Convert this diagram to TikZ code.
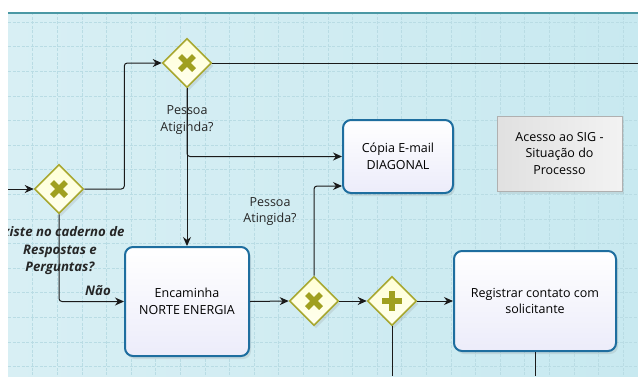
\documentclass[tikz,border=0pt]{standalone}
\usepackage{fontspec}
\setmainfont{Open Sans}
\usepackage{tikz}
\usetikzlibrary{shapes.geometric,arrows.meta,shadows}
\usepackage{xcolor}

\definecolor{bgl}{HTML}{D8EFF4}
\definecolor{bgr}{HTML}{C8E9F0}
\definecolor{gridcol}{HTML}{B9DCE4}
\definecolor{topcol}{HTML}{4A98A4}
\definecolor{gwborder}{HTML}{A8A830}
\definecolor{gwfill}{HTML}{FFFFD6}
\definecolor{gwmark}{HTML}{A0A020}
\definecolor{taskblue}{HTML}{1E6E9F}
\definecolor{taskfill}{HTML}{ECECFA}
\definecolor{noteborder}{HTML}{B0B0B0}
\definecolor{linecol}{HTML}{1A1A1A}

\begin{document}
\begin{tikzpicture}[
    x=1pt, y=-1pt,
    task/.style={rectangle, rounded corners=8pt, draw=taskblue, line width=2pt,
        top color=white, bottom color=taskfill, align=center, font=\fontsize{12.5}{16.5}\selectfont,
        drop shadow={opacity=0.18, shadow xshift=2pt, shadow yshift=-3pt}},
    gw/.style={diamond, aspect=1, minimum width=49pt, minimum height=49pt, inner sep=0pt,
        draw=gwborder, line width=1.6pt, top color=gwfill, bottom color=white!60!gwfill,
        drop shadow={opacity=0.18, shadow xshift=2pt, shadow yshift=-3pt}},
    gwx/.style={gw, path picture={
        \draw[gwmark, line width=5.5pt] (path picture bounding box.center)
            +(-7,-7) -- +(7,7) +(-7,7) -- +(7,-7);}},
    gwplus/.style={gw, path picture={
        \draw[gwmark, line width=5.5pt] (path picture bounding box.center)
            +(-10,0) -- +(10,0) +(0,-10) -- +(0,10);}},
    note/.style={rectangle, draw=noteborder, line width=0.8pt, left color=black!12, right color=black!5,
        minimum width=125pt, minimum height=75pt, align=center, font=\fontsize{12.5}{16.5}\selectfont,
        drop shadow={opacity=0.15, shadow xshift=2pt, shadow yshift=-3pt}},
    lbl/.style={align=center, font=\fontsize{12.5}{16.5}\selectfont, text=black!85, inner sep=0pt},
    qlbl/.style={align=center, font=\fontsize{13.2}{17.5}\selectfont\bfseries\itshape, text=black!85, inner sep=0pt},
    flow/.style={draw=linecol, line width=1pt, rounded corners=3pt, -{Stealth[length=9pt, width=8pt]}},
    line/.style={draw=linecol, line width=1pt},
    gridline/.style={draw=gridcol, line width=0.6pt, dash pattern=on 3pt off 1.5pt}
]
    \useasboundingbox (0,0) rectangle (638,376);
    \fill[white] (0,0) rectangle (638,376);

    \begin{scope}
    \clip (8,12) rectangle (638,376);

    % Canvas
    \fill[left color=bgl, right color=bgr] (8,12) rectangle (638,376);
    \foreach \k in {1,...,26}
        \draw[gridline] ({8+24.6*\k},12) -- ({8+24.6*\k},376);
    \foreach \k in {0,...,14}
        \draw[gridline] (8,{22+24.6*\k}) -- (638,{22+24.6*\k});
    \draw[topcol, line width=2pt] (8,13) -- (638,13);

    % Gateways
    \node[gwx] (g1) at (59,189) {};
    \node[gwx] (g2) at (187,63) {};
    \node[gwx] (g3) at (314,301) {};
    \node[gwplus] (g4) at (392,301) {};

    % Tasks
    \node[task, minimum width=124pt, minimum height=109pt] (enc) at (187,301.5) {Encaminha\\NORTE ENERGIA};
    \node[task, minimum width=110pt, minimum height=73pt] (cop) at (398,156.5) {Cópia E-mail\\DIAGONAL};
    \node[task, minimum width=162pt, minimum height=100pt] (reg) at (535,301) {Registrar contato com\\solicitante};
    \node[note] (sig) at (559.5,153.5) {Acesso ao SIG -\\Situação do\\Processo};

    % Free ends
    \coordinate (in1) at (8,189);
    \coordinate (out1) at (638,63);
    \coordinate (out2) at (392,376);
    \coordinate (out3) at (535,376);

    % Flows
    \draw[flow] (in1) -- (g1.west);
    \draw[flow] (g1.east) -- ++(40,0) |- (g2.west);
    \draw[line] (g2.east) -- (out1);
    \draw[flow] (g2.south) -- (enc.north);
    \draw[flow] (g2.south) |- (cop.west);
    \draw[flow] (g1.south) |- (enc.west);
    \draw[flow] (enc.east) -- (g3.west);
    \draw[flow] (g3.north) |- ([yshift=-29.5pt]cop.west);
    \draw[flow] (g3.east) -- (g4.west);
    \draw[flow] (g4.east) -- (reg.west);
    \draw[line] (g4.south) -- (out2);
    \draw[line] (reg.south) -- (out3);

    % Labels
    \node[lbl] (lq1) at (187,120) {Pessoa\\Atiginda?};
    \node[lbl] (lq2) at (270,211.5) {Pessoa\\Atingida?};
    \node[qlbl] (lq3) at (60,251) {Existe no caderno de\\Respostas e\\Perguntas?};
    \node[qlbl] (lnao) at (98,291) {Não};
    \end{scope}
\end{tikzpicture}
\end{document}
